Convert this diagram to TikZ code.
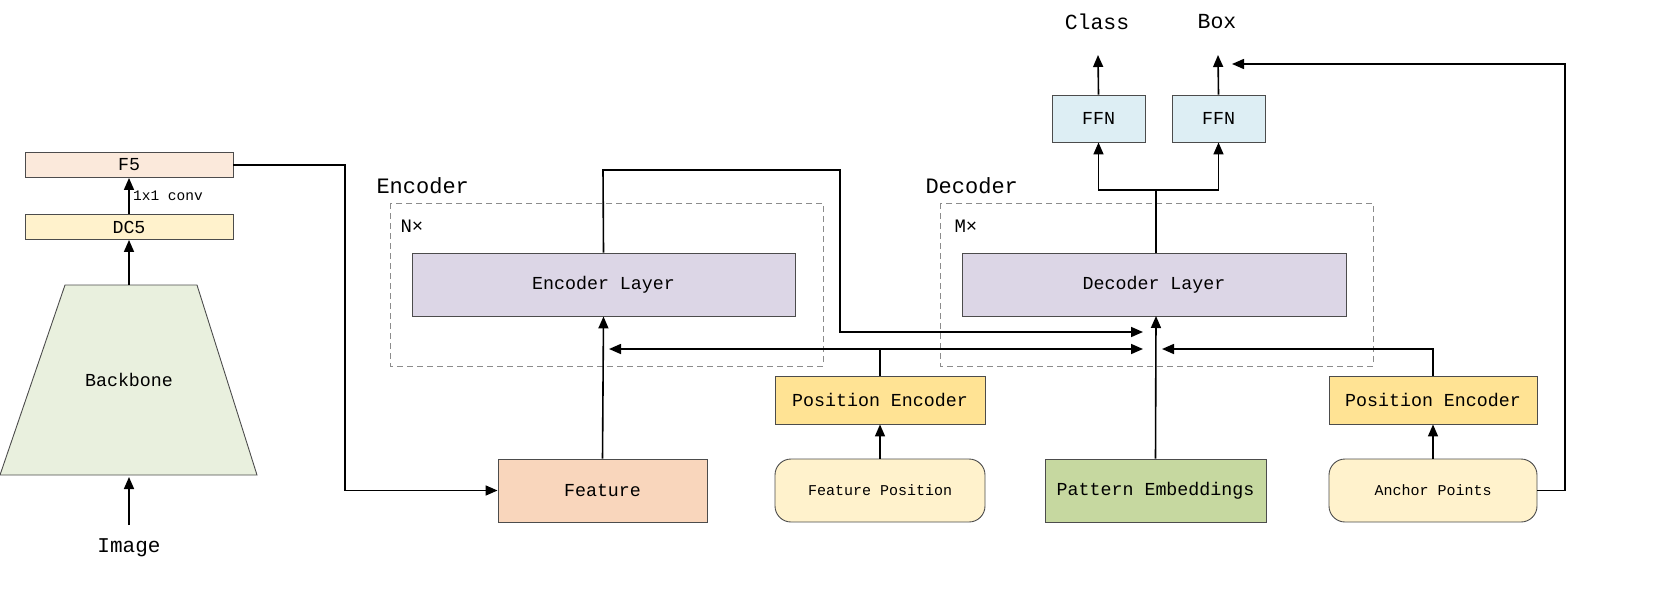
\documentclass[tikz,border=0pt]{standalone}
\usepackage{fontspec}
\setmainfont{Liberation Mono}
\usetikzlibrary{arrows.meta}
\definecolor{cF}{HTML}{FBE9DB}
\definecolor{cDC}{HTML}{FFF2CC}
\definecolor{cBB}{HTML}{E9F0DE}
\definecolor{cL}{HTML}{DCD6E6}
\definecolor{cFeat}{HTML}{F9D6BC}
\definecolor{cPE}{HTML}{FFE394}
\definecolor{cPat}{HTML}{C6D8A0}
\definecolor{cFFN}{HTML}{DDEEF4}
\newcommand{\fs}[1]{\fontsize{#1}{#1}\selectfont}
\begin{document}
\begin{tikzpicture}[x=1pt,y=-1pt,
  box/.style={draw=black!70,line width=0.9pt,inner sep=0pt},
  ar/.style={line width=1.6pt,-{Triangle[length=12pt,width=10pt]}},
  ln/.style={line width=1.6pt},
  dbox/.style={draw=black!45,line width=1pt,dash pattern=on 6pt off 4pt},
  t18/.style={font=\fs{18.3}}]
\useasboundingbox (0,0) rectangle (1653,605);
% left column
\node[box,fill=cF,minimum width=208pt,minimum height=25pt,t18] (f5) at (129,165) {F5};
\node[box,fill=cDC,minimum width=208pt,minimum height=25pt,t18] (dc5) at (129,227) {DC5};
\draw[box,fill=cBB] (65,285) -- (197,285) -- (257,475) -- (0,475) -- cycle;
\node[t18] (bb) at (129,380) {Backbone};
\coordinate (bbtop) at (129,285);
\coordinate (bbbot) at (129,477);
\node[font=\fs{21}] (img) at (129,548) {Image};
\draw[ar] (129,525) -- (bbbot);
\draw[ar] (bbtop) -- (dc5.south);
\draw[ar] (dc5.north) -- node[right,font=\fs{14.5}]{1x1 conv} (f5.south);
% encoder
\draw[dbox] (390,203) rectangle (823,366);
\node[font=\fs{22},anchor=west] (enc) at (373,186) {Encoder};
\node[font=\fs{19},anchor=west] (nx) at (397,226) {N×};
\node[box,fill=cL,minimum width=383pt,minimum height=63pt,t18] (el) at (603.5,284.5) {Encoder Layer};
\node[box,fill=cFeat,minimum width=209pt,minimum height=63pt,t18] (feat) at (602.5,490.5) {Feature};
\node[box,fill=cPE,minimum width=210pt,minimum height=48pt,t18] (pe1) at (880,400) {Position Encoder};
\node[box,fill=cDC,rounded corners=16pt,minimum width=210pt,minimum height=63pt,font=\fs{15}] (fp) at (880,490.5) {Feature Position};
% decoder
\draw[dbox] (940,203) rectangle (1373,366);
\node[font=\fs{22},anchor=west] (dec) at (922,186) {Decoder};
\node[font=\fs{19},anchor=west] (mx) at (951,226) {M×};
\node[box,fill=cL,minimum width=384pt,minimum height=63pt,t18] (dl) at (1154,284.5) {Decoder Layer};
\node[box,fill=cPat,minimum width=221pt,minimum height=63pt,t18] (pat) at (1155.5,490.5) {Pattern Embeddings};
\node[box,fill=cPE,minimum width=208pt,minimum height=48pt,t18] (pe2) at (1433,400) {Position Encoder};
\node[box,fill=cDC,rounded corners=16pt,minimum width=208pt,minimum height=63pt,font=\fs{15}] (ap) at (1433,490.5) {Anchor Points};
\node[box,fill=cFFN,minimum width=93pt,minimum height=47pt,t18] (ffn1) at (1098.5,118.5) {FFN};
\node[box,fill=cFFN,minimum width=93pt,minimum height=47pt,t18] (ffn2) at (1218.5,118.5) {FFN};
\node[font=\fs{21.5}] (cls) at (1097,22) {Class};
\node[font=\fs{21.5}] (bx) at (1217,22) {Box};
\coordinate (a1) at (1143,332);
\coordinate (a2) at (1143,349);
\coordinate (a3) at (1162,349);
\coordinate (a4) at (609,349);
\coordinate (a5) at (1232,64);
% connectors
\draw[ar] (f5.east) -- (345,165) |- (feat.west);
\draw[ar] (feat.north) -- (el.south);
\draw[ar] (el.north) -- (603,170) -| (840,332) -- (a1);
\draw[ar] (fp.north) -- (pe1.south);
\draw[ln] (pe1.north) -- (880,349);
\draw[ar] (880,349) -- (a4);
\draw[ar] (880,349) -- (a2);
\draw[ar] (pat.north) -- (1156,316);
\draw[ar] (ap.north) -- (pe2.south);
\draw[ar] (pe2.north) |- (a3);
\draw[ar] (ap.east) -- (1565,490.5) |- (a5);
\draw[ln] (1156,253) -- (1156,190);
\draw[ar] (1156,190) -| (ffn1.south);
\draw[ar] (1156,190) -| (ffn2.south);
\draw[ar] (ffn1.north) -- (1098,55);
\draw[ar] (ffn2.north) -- (1218,55);
\end{tikzpicture}
\end{document}
